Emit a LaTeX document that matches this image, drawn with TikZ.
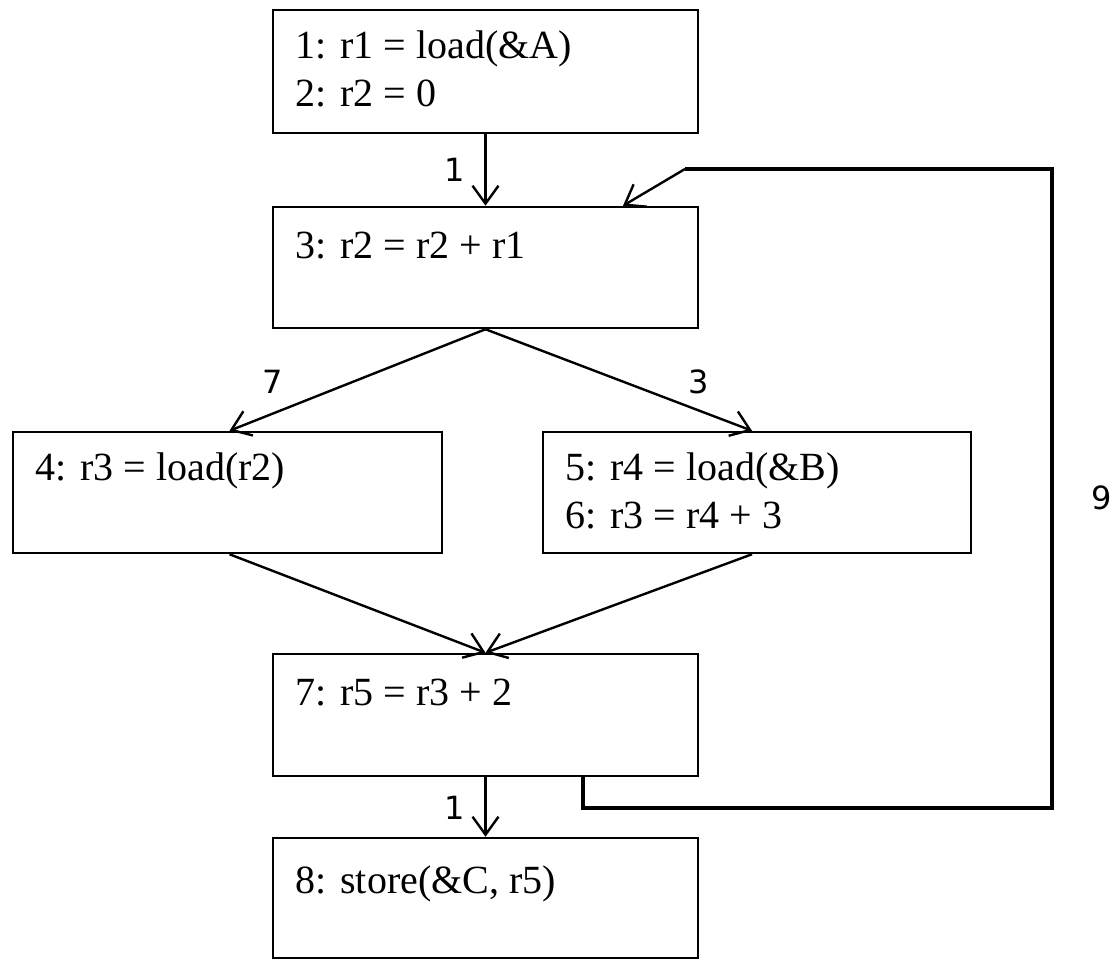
\documentclass[tikz,border=0pt]{standalone}
\usepackage{fontspec}
\setmainfont{Liberation Serif}
\newfontfamily\lblfont{DejaVu Sans}
\usetikzlibrary{arrows.meta,calc}
\begin{document}
\begin{tikzpicture}[x=1pt,y=-1pt,
  box/.style={draw=black, line width=2.5pt, inner sep=0pt, fill=none},
  txt/.style={anchor=base west, inner sep=0pt, font=\fontsize{40}{48}\selectfont},
  lbl/.style={inner sep=0pt, font=\lblfont\fontsize{32}{36}\selectfont},
  conn/.style={line width=2.4pt, -{Straight Barb[length=18pt,width=26pt,line width=2.4pt]}},
  loopline/.style={line width=3.4pt, line join=miter},
]
\useasboundingbox (0,0) rectangle (1114,960);
\fill[white] (0,0) rectangle (1114,960);

% boxes
\node[box, minimum width=425pt, minimum height=123pt] (b1) at (485.5,71.5) {};
\node[box, minimum width=425pt, minimum height=121pt] (b3) at (485.5,267.5) {};
\node[box, minimum width=429pt, minimum height=121pt] (b4) at (227.5,492.5) {};
\node[box, minimum width=428pt, minimum height=121pt] (b5) at (757,492.5) {};
\node[box, minimum width=425pt, minimum height=122pt] (b7) at (485.5,715) {};
\node[box, minimum width=425pt, minimum height=120pt] (b8) at (485.5,898) {};

% texts
\node[txt] (t1) at ($(b1.north west)+(24,50)$) {1: r1 = load(\&A)};
\node[txt] (t2) at ($(b1.north west)+(24,98)$) {2: r2 = 0};
\node[txt] (t3) at ($(b3.north west)+(24,53)$) {3: r2 = r2 + r1};
\node[txt] (t4) at ($(b4.north west)+(24,50)$) {4: r3 = load(r2)};
\node[txt] (t5) at ($(b5.north west)+(24,50)$) {5: r4 = load(\&B)};
\node[txt] (t6) at ($(b5.north west)+(24,98)$) {6: r3 = r4 + 3};
\node[txt] (t7) at ($(b7.north west)+(24,53)$) {7: r5 = r3 + 2};
\node[txt] (t8) at ($(b8.north west)+(24,57)$) {8: store(\&C, r5)};

% connectors
\draw[conn] (b1.south) -- (b3.north);
\draw[conn] (b3.south) -- ($(b4.north)+(2,0)$);
\draw[conn] (b3.south) -- ($(b5.north)+(-5,0)$);
\draw[conn] ($(b4.south)+(2,0)$) -- (b7.north);
\draw[conn] ($(b5.south)+(-5,0)$) -- (b7.north);
\draw[conn] (b7.south) -- (b8.north);

% loop back edge
\coordinate (lp1) at (583,808);
\coordinate (lp2) at (1052,808);
\coordinate (lp3) at (1052,169);
\coordinate (lp4) at (685,169);
\draw[loopline] ($(b7.south)+(97.5,0)$) -- (lp1) -- (lp2) -- (lp3) -- (lp4);
\draw[conn] (lp4) -- ($(b3.north)+(137.5,0)$);

% edge labels
\node[lbl] (l1) at (455,170) {1};
\node[lbl] (l7) at (273,382) {7};
\node[lbl] (l3) at (699,382) {3};
\node[lbl] (l1b) at (455,808) {1};
\node[lbl] (l9) at (1102,498) {9};
\end{tikzpicture}
\end{document}
